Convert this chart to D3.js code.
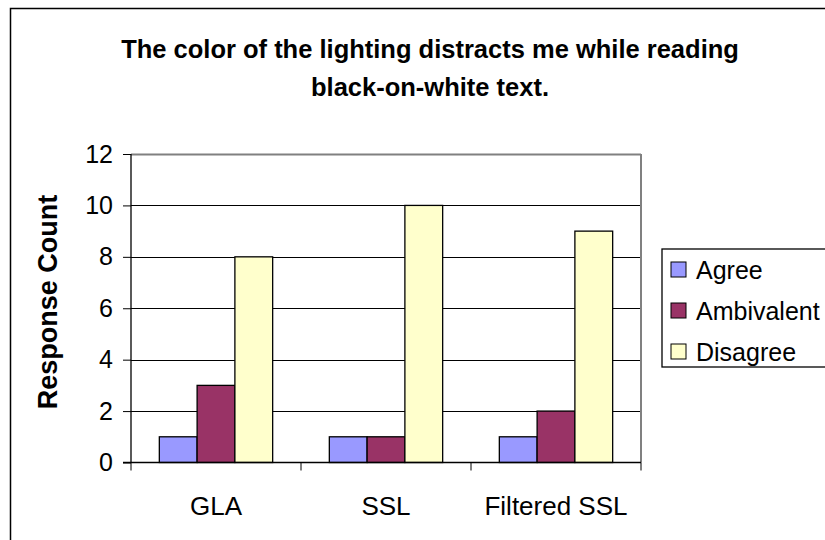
<!DOCTYPE html>
<html>
<head>
<meta charset="utf-8">
<script src="https://cdn.jsdelivr.net/npm/d3@7"></script>
<style>
  html, body { margin: 0; padding: 0; background: #fff; }
  svg { display: block; font-family: "Liberation Sans", Arial, sans-serif; }
</style>
</head>
<body>
<svg id="chart" width="825" height="540"></svg>
<script>
const categories = ["GLA", "SSL", "Filtered SSL"];
const seriesNames = ["Agree", "Ambivalent", "Disagree"];
const agreeValues = [1, 1, 1];
const ambivalentValues = [3, 1, 2];
const disagreeValues = [8, 10, 9];
const yTicks = [0, 2, 4, 6, 8, 10, 12];
const seriesColors = ["#9999FF", "#993366", "#FFFFCC"];
const titleLines = ["The color of the lighting distracts me while reading", "black-on-white text."];
const yTitle = "Response Count";

const series = [agreeValues, ambivalentValues, disagreeValues];

const svg = d3.select("#chart");
const plot = { left: 131, top: 154, right: 641, bottom: 462.5 };

// outer chart border
svg.append("rect").attr("x", 10.5).attr("y", 8.5).attr("width", 830).attr("height", 540)
  .attr("fill", "#fff").attr("stroke", "#000").attr("stroke-width", 1.5);

// title
const title = svg.append("text").attr("text-anchor", "middle")
  .attr("font-weight", "bold").attr("font-size", 25.5).attr("fill", "#000");
titleLines.forEach((t, i) => {
  title.append("tspan").attr("x", 430).attr("y", 58 + i * 38).text(t);
});

const x0 = d3.scaleBand().domain(categories).range([plot.left, plot.right]).paddingInner(0).paddingOuter(0);
const x1 = d3.scaleBand().domain(seriesNames)
  .range([0, x0.bandwidth()]).paddingInner(0).paddingOuter(0.75);
const y = d3.scaleLinear().domain([0, 12]).range([plot.bottom, plot.top]);

// gridlines
svg.append("g").selectAll("line").data(yTicks.filter(d => d > 0)).join("line")
  .attr("x1", plot.left).attr("x2", plot.right)
  .attr("y1", d => Math.round(y(d)) + 0.5).attr("y2", d => Math.round(y(d)) + 0.5)
  .attr("stroke", d => d === 12 ? "#808080" : "#000").attr("stroke-width", d => d === 12 ? 2 : 1);

// right plot border
svg.append("line").attr("x1", plot.right).attr("x2", plot.right)
  .attr("y1", plot.top).attr("y2", plot.bottom)
  .attr("stroke", "#808080").attr("stroke-width", 2);

// bars
const groups = svg.append("g").selectAll("g").data(categories).join("g")
  .attr("transform", d => `translate(${x0(d)},0)`);
groups.selectAll("rect").data((c, ci) => seriesNames.map((s, si) => ({ s, v: series[si][ci], si })))
  .join("rect")
  .attr("x", d => x1(d.s)).attr("width", x1.bandwidth())
  .attr("y", d => y(d.v)).attr("height", d => y(0) - y(d.v))
  .attr("fill", d => seriesColors[d.si]).attr("stroke", "#000").attr("stroke-width", 1.3);

// y axis
const yAxis = d3.axisLeft(y).tickValues(yTicks).tickSize(8).tickPadding(10).tickFormat(d3.format("d"));
const ya = svg.append("g").attr("transform", `translate(${plot.left},0)`).call(yAxis);
ya.select(".domain").attr("stroke", "#000").attr("stroke-width", 1.3).attr("d", `M0,${plot.top}V${plot.bottom + 0.5}`);
ya.selectAll(".tick line").attr("stroke", "#000");
ya.selectAll("text").attr("font-size", 25).attr("fill", "#000").attr("font-family", "Liberation Sans, Arial, sans-serif");

// x axis
const xa = svg.append("g").attr("transform", `translate(0,${plot.bottom})`);
xa.append("line").attr("x1", plot.left - 8).attr("x2", plot.right).attr("y1", 0).attr("y2", 0)
  .attr("stroke", "#000").attr("stroke-width", 1.3);
const tickPos = categories.map(c => x0(c)).concat([plot.right]);
xa.selectAll("line.tk").data(tickPos).join("line").attr("class", "tk")
  .attr("x1", d => d).attr("x2", d => d).attr("y1", 0).attr("y2", 8).attr("stroke", "#000");
xa.selectAll("text").data(categories).join("text")
  .attr("x", d => x0(d) + x0.bandwidth() / 2).attr("y", 52)
  .attr("text-anchor", "middle").attr("font-size", 26).attr("fill", "#000").text(d => d);

// y axis title
svg.append("text").attr("transform", "translate(57,302) rotate(-90)")
  .attr("text-anchor", "middle").attr("font-weight", "bold").attr("font-size", 27).text(yTitle);

// legend
const lg = svg.append("g");
lg.append("rect").attr("x", 662).attr("y", 249).attr("width", 170).attr("height", 118)
  .attr("fill", "#fff").attr("stroke", "#000").attr("stroke-width", 1.3);
const li = lg.selectAll("g").data(seriesNames).join("g")
  .attr("transform", (d, i) => `translate(671,${262 + i * 41})`);
li.append("rect").attr("width", 15).attr("height", 15)
  .attr("fill", (d, i) => seriesColors[i]).attr("stroke", "#000").attr("stroke-width", 1);
li.append("text").attr("x", 25).attr("y", 17).attr("font-size", 25).attr("fill", "#000").text(d => d);
</script>
</body>
</html>
